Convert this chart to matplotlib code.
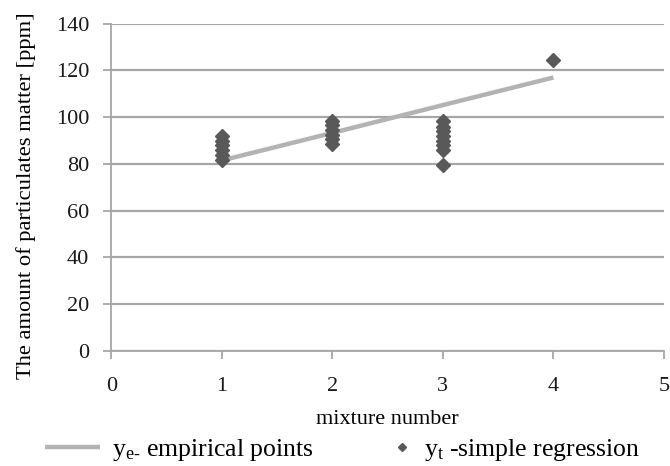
import matplotlib
matplotlib.use("Agg")
import matplotlib.pyplot as plt

plt.rcParams["font.family"] = ["Liberation Serif", "DejaVu Serif"]
plt.rcParams["mathtext.fontset"] = "custom"
plt.rcParams["mathtext.rm"] = "Liberation Serif"
plt.rcParams["mathtext.it"] = "Liberation Serif:italic"

# empirical line
line_x = [1, 2, 3, 4]
line_y = [81.5, 93.3, 105.2, 117.0]

# regression points per mixture
pts_x1 = [1, 1, 1, 1, 1, 1]
pts_y1 = [81.5, 84, 86, 88, 90, 92]
pts_x2 = [2, 2, 2, 2, 2, 2]
pts_y2 = [88.5, 90.5, 92.5, 94.5, 96.5, 98.5]
pts_x3 = [3, 3, 3, 3, 3, 3, 3, 3]
pts_y3 = [79.5, 86, 88, 90, 92, 94, 96, 98.5]
pts_x4 = [4]
pts_y4 = [124.5]

xs = pts_x1 + pts_x2 + pts_x3 + pts_x4
ys = pts_y1 + pts_y2 + pts_y3 + pts_y4

gray = "#a6a6a6"
dark = "#595959"

fig = plt.figure(figsize=(6.7, 4.66), dpi=100)
ax = fig.add_axes([0.166, 0.247, 0.825, 0.702])

ln, = ax.plot(line_x, line_y, color="#b3b3b3", lw=3.2, solid_capstyle="butt", zorder=2,
              label=r"$\mathrm{y}_{\mathrm{e}\text{-}}$ empirical points")
sc, = ax.plot(xs, ys, ls="none", marker="D", ms=7.5, color=dark, zorder=3,
              label=r"$\mathrm{y}_{\mathrm{t}}$ -simple regression")

ax.set_xlim(0, 5)
ax.set_ylim(0, 140)
ax.set_xticks(range(0, 6))
ax.set_yticks(range(0, 141, 20))
ax.yaxis.grid(True, color=gray, lw=1.6)
ax.set_axisbelow(True)
for s in ["top", "right"]:
    ax.spines[s].set_visible(False)
for s in ["left", "bottom"]:
    ax.spines[s].set_color(gray)
    ax.spines[s].set_linewidth(1.3)
ax.tick_params(axis="both", direction="out", length=6, width=1.3, color=gray,
               labelsize=16, labelcolor="#1a1a1a")
ax.tick_params(axis="y", pad=10)
ax.tick_params(axis="x", pad=13)

ax.set_xlabel("mixture number", fontsize=16, labelpad=10)
ax.set_ylabel("The amount of particulates matter [ppm]", fontsize=16.2)
ax.yaxis.set_label_coords(-0.136, 0.475)

fig.legend([ln], [ln.get_label()], loc="center left",
           bbox_to_anchor=(45 / 670, 0.034), frameon=False, fontsize=18.5,
           handlelength=2.15, handletextpad=0.45, borderpad=0, borderaxespad=0)
fig.legend([sc], [sc.get_label()], loc="center left",
           bbox_to_anchor=(394 / 670, 0.034), frameon=False, fontsize=18.5,
           handlelength=0.6, handletextpad=0.55, borderpad=0, borderaxespad=0,
           markerscale=0.55)

fig.savefig("out.png", dpi=100)
